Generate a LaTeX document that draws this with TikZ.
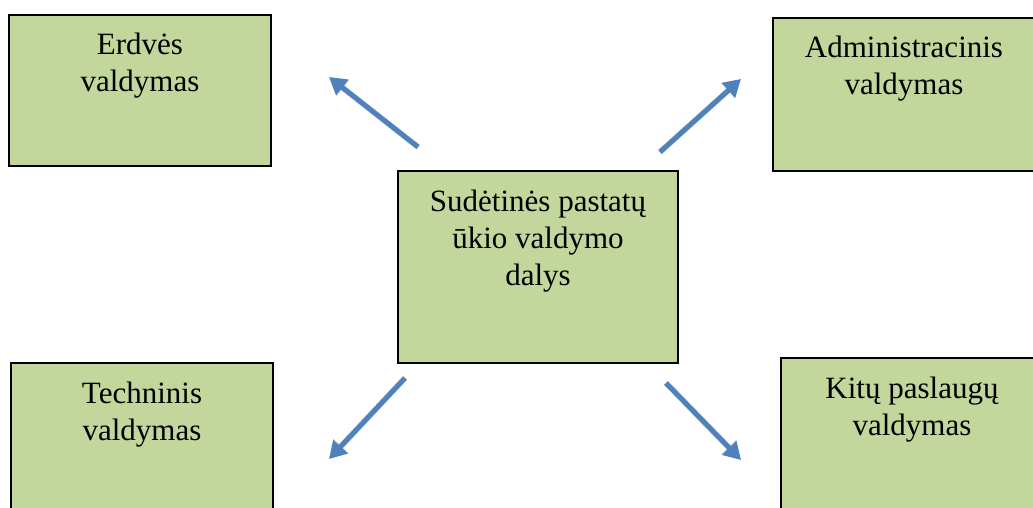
\documentclass[tikz,border=0pt]{standalone}
\usepackage{fontspec}
\setmainfont{Liberation Serif}
\usetikzlibrary{arrows.meta}
\definecolor{boxgreen}{HTML}{C3D69B}
\definecolor{arrowblue}{HTML}{4F81BD}
\newcommand{\boxtext}[3]{\parbox[t][#2][t]{#1}{\centering\rule{0pt}{40pt}#3\par}}
\tikzset{
  greenbox/.style={draw=black, line width=2pt, fill=boxgreen, inner sep=0pt, anchor=north west,
    font=\fontsize{31}{37}\selectfont},
  bluearrow/.style={draw=arrowblue, line width=5pt, -{Triangle[length=17pt,width=19pt]}},
  arrowshadow/.style={draw=black!50, opacity=0.25, line width=6pt, -{Triangle[length=18pt,width=20pt]}, xshift=2pt, yshift=-3pt}
}
\begin{document}
\begin{tikzpicture}[x=1pt,y=-1pt]
\clip (0,0) rectangle (1033,508);
\fill[white] (0,0) rectangle (1033,508);
\node[greenbox] (erd) at (8,14) {\boxtext{262pt}{151pt}{Erdvės\\valdymas}};
\node[greenbox] (adm) at (772,17) {\boxtext{262pt}{153pt}{Administracinis\\valdymas}};
\node[greenbox] (sud) at (397,170) {\boxtext{280pt}{192pt}{Sudėtinės pastatų\\ūkio valdymo\\dalys}};
\node[greenbox] (tec) at (10,362) {\boxtext{262pt}{152pt}{Techninis\\valdymas}};
\node[greenbox] (kit) at (780,357) {\boxtext{262pt}{152pt}{Kitų paslaugų\\valdymas}};
\coordinate (a1s) at (418,147); \coordinate (a1e) at (329,77);
\coordinate (a2s) at (660,152); \coordinate (a2e) at (741,79);
\coordinate (a3s) at (405,378); \coordinate (a3e) at (329,459);
\coordinate (a4s) at (666,383); \coordinate (a4e) at (741,460);
\foreach \s/\e in {a1s/a1e,a2s/a2e,a3s/a3e,a4s/a4e}{
  \draw[arrowshadow] (\s) -- (\e);
  \draw[bluearrow] (\s) -- (\e);
}
\end{tikzpicture}
\end{document}
